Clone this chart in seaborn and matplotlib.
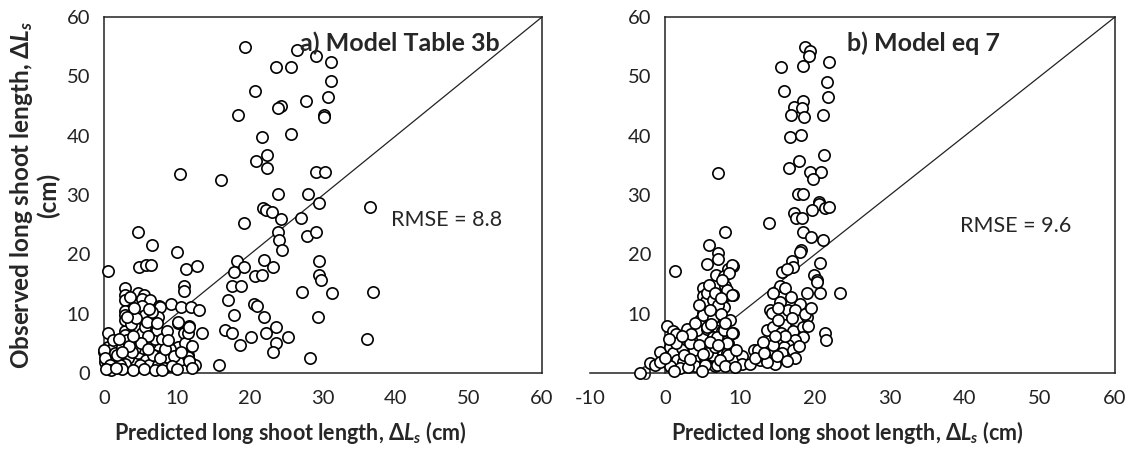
import numpy as np
import pandas as pd
import seaborn as sns
import matplotlib.pyplot as plt

# (predicted, observed) long shoot length in cm
points_a = [
    (19.3, 55.0), (26.4, 54.4), (29.1, 53.4), (31.1, 52.5), (23.6, 51.6), (25.6, 51.5),
    (31.1, 49.2), (20.7, 47.6), (30.7, 46.6), (27.7, 45.9), (24.3, 45.0), (23.9, 44.7),
    (18.4, 43.4), (30.2, 43.5), (30.2, 43.1), (21.6, 39.7), (25.6, 40.2), (22.3, 36.8),
    (20.8, 35.8), (22.3, 34.6), (10.4, 33.6), (16.0, 32.6), (29.0, 33.8), (30.3, 33.8),
    (23.8, 30.1), (28.0, 30.1), (29.5, 28.6), (36.4, 27.9), (21.8, 27.8), (22.2, 27.5),
    (23.0, 27.1), (24.3, 26.0), (27.0, 26.2), (19.2, 25.3), (23.9, 23.8), (24.0, 22.5),
    (27.8, 23.1), (29.0, 23.7), (24.4, 20.8), (4.7, 23.7), (6.6, 21.5), (10.0, 20.4),
    (18.2, 18.8), (21.9, 19.0), (19.2, 17.8), (23.1, 17.8), (29.5, 18.8), (17.8, 17.0),
    (29.4, 16.5), (29.7, 15.6), (20.7, 16.3), (21.6, 16.5), (0.5, 17.2), (4.8, 17.9),
    (5.8, 18.2), (6.5, 18.2), (11.2, 17.5), (12.7, 18.0), (10.9, 14.7), (11.0, 13.8),
    (17.5, 14.6), (18.7, 14.6), (27.1, 13.7), (31.3, 13.4), (36.8, 13.7), (17.0, 12.3),
    (20.6, 11.6), (20.9, 11.3), (17.8, 9.8), (21.9, 9.5), (29.3, 9.5), (16.6, 7.2),
    (17.5, 6.8), (23.6, 7.8), (22.2, 6.8), (13.4, 6.7), (20.1, 6.1), (25.2, 6.0),
    (36.0, 5.7), (18.6, 4.7), (23.6, 5.0), (23.1, 3.6), (28.2, 2.6), (15.8, 1.4),
    (0.0, 3.6), (0.6, 4.4), (1.3, 4.2), (0.1, 1.9), (0.6, 1.35), (1.5, 2.2),
    (2.6, 5.0), (2.9, 7.0), (3.0, 6.1), (3.1, 2.7), (3.6, 1.9), (4.2, 7.8),
    (4.5, 5.6), (4.0, 2.2), (4.7, 3.3), (5.4, 4.2), (5.8, 2.2), (6.1, 1.35),
    (6.5, 5.6), (6.8, 7.8), (7.0, 3.3), (7.4, 4.7), (7.7, 6.1), (7.9, 2.7),
    (7.4, 1.35), (8.6, 2.7), (4.9, 1.35), (10.2, 8.4), (10.2, 4.4), (10.4, 2.2),
    (11.5, 3.0), (11.8, 1.9), (10.9, 6.7), (11.1, 5.0), (12.5, 1.35), (0.0, 3.9),
    (0.1, 2.5), (0.8, 1.35), (1.5, 3.3), (2.4, 4.4), (2.9, 6.4), (3.1, 5.6),
    (3.3, 2.5), (4.2, 4.2), (5.2, 6.7), (5.6, 7.8), (6.3, 5.0), (7.0, 5.8),
    (6.7, 3.0), (7.7, 2.5), (7.2, 7.2), (7.9, 5.8), (2.9, 1.6), (2.2, 1.35),
    (11.6, 7.9), (11.5, 6.8), (11.5, 2.7), (2.9, 14.3), (2.9, 13.1), (2.9, 12.3),
    (2.9, 10.5), (2.9, 9.8), (2.9, 9.0), (4.7, 13.4), (5.5, 13.2), (5.2, 12.4),
    (6.3, 12.3), (5.2, 11.3), (7.6, 11.3), (9.2, 11.6), (10.5, 11.1), (11.9, 11.2),
    (13.0, 10.7), (7.7, 11.2), (5.6, 9.8), (7.4, 9.5), (10.2, 8.6), (11.7, 7.8),
    (0.6, 6.7), (11.7, 2.0), (8.6, 7.0), (1.0, 0.5), (2.5, 0.6), (4.0, 0.5),
    (5.5, 0.6), (7.0, 0.5), (8.2, 0.8), (3.8, 3.6), (1.2, 5.6), (9.0, 4.0),
    (1.8, 3.0), (2.1, 5.8), (3.4, 4.6), (3.7, 8.3), (4.4, 9.2), (5.9, 8.6),
    (6.0, 6.3), (6.6, 10.2), (7.3, 8.4), (8.3, 4.1), (8.8, 5.6), (9.6, 2.8),
    (12.1, 4.6), (3.5, 12.8), (4.1, 11.0), (6.1, 10.8), (2.5, 3.5), (5.0, 5.0),
    (6.0, 4.0), (3.2, 9.5), (4.0, 6.2), (8.0, 0.5), (9.3, 1.2), (10.0, 0.7),
    (0.3, 0.7), (1.6, 0.9), (12.0, 0.8), (10.6, 3.5),
]

points_b = [
    (18.6, 54.9), (19.3, 54.3), (19.2, 53.5), (21.9, 52.5), (15.4, 51.5), (18.4, 51.7),
    (21.6, 49.1), (15.9, 47.6), (21.7, 46.5), (18.4, 45.8), (17.2, 44.8), (18.2, 44.6),
    (16.8, 43.4), (18.5, 43.1), (21.0, 43.4), (16.7, 39.7), (18.1, 40.1), (21.2, 36.7),
    (17.9, 35.8), (16.5, 34.5), (19.3, 33.8), (20.8, 33.8), (19.7, 32.7), (7.1, 33.7),
    (17.7, 30.1), (18.4, 30.1), (20.5, 28.9), (20.5, 28.5), (21.3, 27.8), (21.9, 27.9),
    (19.6, 27.4), (17.2, 26.9), (17.5, 26.1), (18.2, 26.1), (13.9, 25.3), (18.4, 23.8),
    (19.4, 23.0), (21.0, 22.5), (18.1, 20.7), (18.0, 20.4), (8.0, 23.7), (5.8, 21.5),
    (7.0, 20.3), (7.0, 19.2), (5.6, 18.4), (8.4, 17.5), (9.1, 18.0), (6.8, 16.5),
    (7.8, 16.3), (1.3, 17.2), (20.7, 18.6), (16.9, 18.8), (17.1, 17.8), (15.6, 17.1),
    (16.2, 17.5), (19.8, 16.5), (20.2, 15.7), (20.7, 13.4), (23.3, 13.5), (18.9, 13.5),
    (15.3, 14.6), (16.0, 14.4), (14.4, 13.5), (14.0, 10.6), (14.2, 10.1), (21.3, 6.8),
    (21.4, 5.6), (20.3, 15.4), (15.3, 12.0), (16.4, 10.7), (18.0, 11.7), (17.3, 10.7),
    (18.9, 9.5), (13.6, 7.2), (14.4, 7.8), (15.3, 5.8), (16.0, 8.1), (17.1, 7.0),
    (18.4, 7.8), (18.4, 6.0), (17.3, 5.6), (16.4, 4.7), (15.8, 4.4), (14.4, 4.7),
    (15.6, 3.3), (17.1, 3.9), (17.3, 2.5), (12.7, 3.9), (11.8, 3.9), (10.2, 2.9),
    (10.2, 1.6), (11.3, 1.6), (12.7, 2.2), (13.6, 2.2), (14.7, 1.5), (12.4, 3.9),
    (13.3, 2.7), (13.6, 1.9), (15.0, 9.0), (16.8, 12.8), (19.0, 8.0), (15.5, 6.8),
    (-3.3, 0.05), (-2.0, 1.7), (-1.3, 1.3), (-0.7, 3.6), (0.7, 4.4), (1.1, 3.3),
    (2.2, 4.2), (2.9, 5.6), (1.6, 2.2), (2.4, 1.9), (4.0, 2.5), (3.8, 3.9),
    (3.3, 5.0), (4.9, 6.1), (4.2, 7.2), (5.6, 7.5), (6.4, 6.1), (5.6, 3.9),
    (5.3, 2.5), (6.7, 1.1), (6.2, 3.0), (7.6, 3.9), (8.2, 3.3), (7.6, 7.0),
    (7.3, 8.9), (6.7, 9.5), (5.1, 10.1), (4.7, 8.9), (4.0, 1.1), (2.0, 0.8),
    (0.7, 1.1), (-0.7, 1.9), (0.2, 8.0), (1.0, 7.1), (1.5, 6.6), (2.9, 7.5),
    (4.0, 8.4), (9.1, 6.7), (8.4, 5.0), (8.4, 3.0), (5.1, 14.3), (5.1, 13.0),
    (5.4, 12.2), (8.0, 14.6), (8.3, 13.1), (9.0, 13.1), (6.8, 11.3), (7.8, 11.1),
    (5.6, 13.4), (6.4, 12.3), (7.1, 11.5), (8.2, 14.0), (8.9, 13.1), (5.1, 9.8),
    (6.4, 9.2), (5.6, 7.8), (6.9, 6.1), (7.8, 7.2), (8.9, 6.7), (5.6, 3.3),
    (6.7, 4.4), (8.2, 5.0), (6.9, 1.35), (5.3, 1.35), (8.9, 18.2), (8.5, 16.8),
    (7.6, 15.6), (0.0, 2.5), (1.5, 5.0), (2.5, 3.0), (3.0, 1.0), (3.5, 6.5),
    (4.5, 4.8), (5.0, 3.2), (6.0, 5.2), (7.0, 4.8), (7.3, 2.2), (8.0, 1.2),
    (4.5, 11.5), (6.0, 10.6), (7.5, 10.0), (8.6, 9.0), (5.9, 14.8), (6.6, 13.5),
    (7.4, 12.7), (9.5, 3.8), (9.3, 1.0), (1.2, 0.3), (3.3, 2.4), (4.9, 0.4),
    (0.5, 5.8), (2.2, 6.3), (6.1, 8.2), (8.0, 8.5), (12.0, 2.5), (14.9, 2.8),
    (16.0, 6.3), (16.9, 9.2), (14.6, 6.2), (13.0, 5.2), (15.0, 11.0), (17.9, 4.5),
    (18.6, 10.0), (19.5, 11.0), (16.2, 2.0), (13.2, 3.4),
]

rmse_a = 8.8
rmse_b = 9.6
xticks_a = [0, 10, 20, 30, 40, 50, 60]
xticks_b = [-10, 0, 10, 20, 30, 40, 50, 60]
yticks = [0, 10, 20, 30, 40, 50, 60]

df_a = pd.DataFrame(points_a, columns=['pred', 'obs'])
df_b = pd.DataFrame(points_b, columns=['pred', 'obs'])

sns.set_style('white')
plt.rcParams['font.family'] = ['Lato', 'DejaVu Sans']
plt.rcParams['mathtext.fontset'] = 'custom'
plt.rcParams['mathtext.it'] = 'Lato:italic:bold'
plt.rcParams['mathtext.rm'] = 'Lato:bold'
plt.rcParams['axes.unicode_minus'] = False
plt.rcParams['axes.linewidth'] = 1.1
plt.rcParams['axes.edgecolor'] = '#222222'

fig = plt.figure(figsize=(11.29, 4.49), dpi=100)
ax_a = fig.add_axes([104 / 1129, 76 / 449, 438 / 1129, 356 / 449])
ax_b = fig.add_axes([590 / 1129, 76 / 449, 525 / 1129, 356 / 449])

xlabel = 'Predicted long shoot length, Δ$L_s$ (cm)'
for ax, df, xt in [(ax_a, df_a, xticks_a), (ax_b, df_b, xticks_b)]:
    ax.axline((0, 0), slope=1, color='#222222', lw=0.9, zorder=1)
    sns.scatterplot(data=df, x='pred', y='obs', ax=ax, marker='o', s=66,
                    facecolor='white', edgecolor='black', linewidth=1.2,
                    zorder=3, clip_on=False)
    ax.set_xlim(xt[0], xt[-1])
    ax.set_ylim(0, 60)
    ax.set_xticks(xt)
    ax.set_yticks(yticks)
    ax.tick_params(direction='in', length=5, width=1.1, labelsize=14.5,
                   colors='#222222')
    ax.tick_params(axis='x', pad=12)
    ax.tick_params(axis='y', pad=10)
    ax.set_xlabel(xlabel, fontsize=15.5, fontweight='bold')
    ax.set_ylabel('')

# panel b: y axis crosses at x = 0, box only spans 0..60
ax_b.spines['left'].set_position(('data', 0))
ax_b.spines['top'].set_bounds(0, 60)

ax_a.xaxis.set_label_coords(0.425, -0.13)
ax_b.xaxis.set_label_coords(0.491, -0.13)

ax_a.set_ylabel('Observed long shoot length, Δ$L_s$\n(cm)', fontsize=17.5,
                fontweight='bold', linespacing=1.1)
ax_a.yaxis.set_label_coords(-0.10, 0.5)

ax_a.text(40.5, 55.6, 'a) Model Table 3b', ha='center', va='center',
          fontsize=18, fontweight='bold')
ax_b.text(34.5, 55.6, 'b) Model eq 7', ha='center', va='center',
          fontsize=18, fontweight='bold')
ax_a.text(46.9, 25.8, f'RMSE = {rmse_a}', ha='center', va='center', fontsize=15.5)
ax_b.text(46.7, 24.8, f'RMSE = {rmse_b}', ha='center', va='center', fontsize=15.5)

plt.savefig('out.png', dpi=100)
